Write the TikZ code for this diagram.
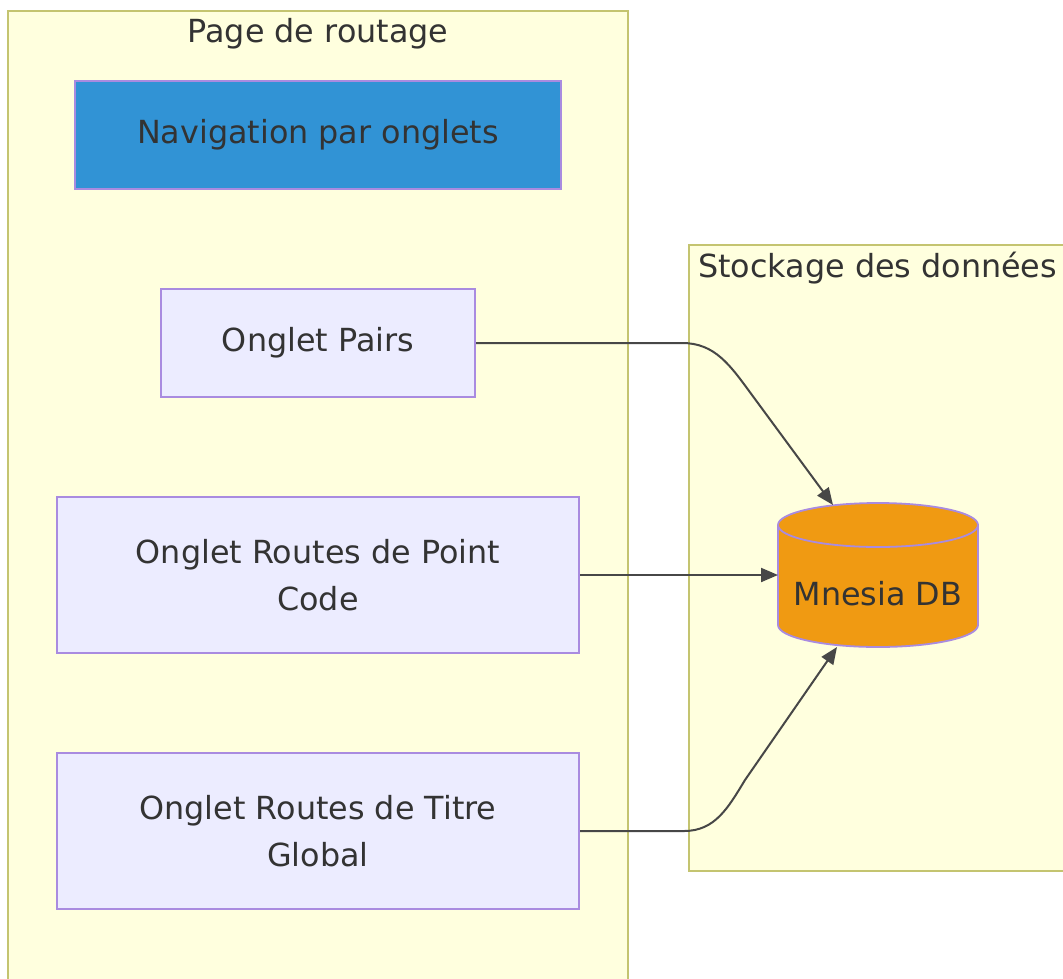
\documentclass[tikz,border=0pt]{standalone}
\usepackage{fontspec}
\setmainfont{DejaVu Sans}
\usetikzlibrary{arrows.meta}
\definecolor{clfill}{HTML}{FFFFDE}
\definecolor{clline}{HTML}{C4C470}
\definecolor{ndfill}{HTML}{ECECFF}
\definecolor{ndline}{HTML}{A98BE0}
\definecolor{txt}{HTML}{333333}
\definecolor{navblue}{HTML}{3193D5}
\definecolor{dborange}{HTML}{F09A12}
\begin{document}
\begin{tikzpicture}[x=1pt,y=-1pt,
  lbl/.style={text=txt, font=\fontsize{31.8}{47.5}\selectfont, inner sep=0pt, align=center},
  box/.style={lbl, draw=ndline, fill=ndfill, line width=2pt},
  cluster/.style={draw=clline, fill=clfill, line width=2.5pt},
  edge/.style={draw=txt!90, line width=2pt, -{Triangle[length=17pt,width=14pt]}}]
\path[use as bounding box, clip] (0,0) rectangle (1063,978);
\fill[white] (0,0) rectangle (1063,978);
% clusters
\draw[cluster] (8,11) rectangle (628,995);
\draw[cluster] (689,245) rectangle (1080,871);
\node[lbl] (t1) at (318,34) {Page de routage};
\node[lbl, anchor=west] (t2) at (698,268) {Stockage des données};
% nodes
\node[box, fill=navblue, minimum width=486pt, minimum height=108pt] (nav) at (318,135) {Navigation par onglets};
\node[box, minimum width=314pt, minimum height=108pt] (pairs) at (318,343) {Onglet Pairs};
\node[box, minimum width=522pt, minimum height=156pt] (pc) at (318,575) {Onglet Routes de Point\\Code};
\node[box, minimum width=522pt, minimum height=156pt] (tg) at (318,831) {Onglet Routes de Titre\\Global};
% cylinder
\path[fill=dborange, draw=ndline, line width=1.8pt] (778,525) -- (778,625)
  arc[start angle=180, end angle=0, x radius=100, y radius=22] -- (978,525)
  arc[start angle=0, end angle=-180, x radius=100, y radius=22] -- cycle;
\draw[ndline, line width=1.8pt] (778,525) arc[start angle=180, end angle=0, x radius=100, y radius=22];
\node[lbl] (db) at (878,594) {Mnesia DB};
\coordinate (dbtop) at (833,505);
\coordinate (dbleft) at (778,575);
\coordinate (dbbot) at (837,647);
% edges
\draw[edge] (pairs.east) -- (682,343) .. controls (715,343) and (730,365) .. (752,395) -- (dbtop);
\draw[edge] (pc.east) -- (dbleft);
\draw[edge] (tg.east) -- (684,831) .. controls (715,831) and (728,808) .. (745,780) -- (dbbot);
\end{tikzpicture}
\end{document}
